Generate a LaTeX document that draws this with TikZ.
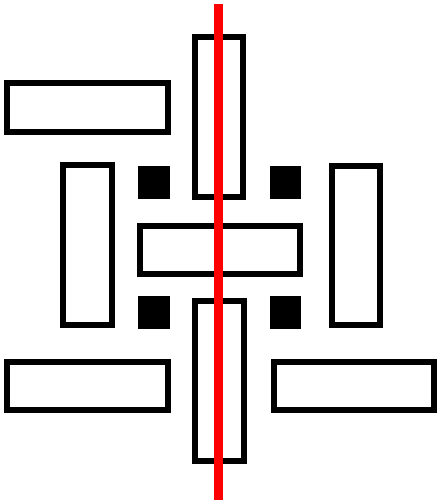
\documentclass[tikz,border=0pt]{standalone}
\begin{document}
\begin{tikzpicture}[x=0.02cm, y=-0.02cm]
        \tikzset{bar/.style={draw=black, line width=3.7pt, fill=white},
                 pad/.style={fill=black},
                 axis line/.style={draw=red, line width=4.8pt}}
        % Frame
        \useasboundingbox (0,0) rectangle (438,504);

        % Horizontal bars
        \draw[bar] (7,83) rectangle (168,132);
        \draw[bar] (140,226) rectangle (300,274);
        \draw[bar] (7,362) rectangle (168,410);
        \draw[bar] (274,362) rectangle (434,410);

        % Vertical bars
        \draw[bar] (195,37) rectangle (243,197);
        \draw[bar] (63,165) rectangle (112,325);
        \draw[bar] (332,166) rectangle (380,325);
        \draw[bar] (195,301) rectangle (244,461);

        % Black pads
        \fill[pad] (138,166) rectangle (170,199);
        \fill[pad] (270,166) rectangle (301,199);
        \fill[pad] (138,296) rectangle (170,329);
        \fill[pad] (270,296) rectangle (301,329);

        % Red axis
        \draw[axis line] (218.5,4) -- (218.5,500);
    \end{tikzpicture}
\end{document}
